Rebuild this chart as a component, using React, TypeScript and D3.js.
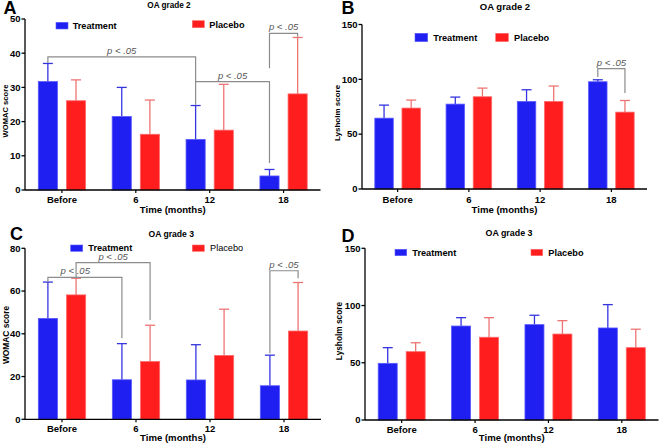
import React from 'react';
import * as d3 from 'd3';

// ---------- DATA ----------
const categories = ['Before', '6', '12', '18'];
const seriesNames = ['Treatment', 'Placebo'];

// Panel A: WOMAC, OA grade 2
const womacG2Treatment = [31.7, 21.5, 14.8, 4.1];
const womacG2TreatmentSD = [5.3, 8.5, 9.9, 1.9];
const womacG2Placebo = [26.1, 16.3, 17.5, 28.1];
const womacG2PlaceboSD = [6.1, 10.0, 13.4, 16.5];

// Panel B: Lysholm, OA grade 2
const lysholmG2Treatment = [64.6, 77.4, 79.8, 97.8];
const lysholmG2TreatmentSD = [11.9, 6.4, 10.7, 1.8];
const lysholmG2Placebo = [73.8, 84.1, 79.8, 70.1];
const lysholmG2PlaceboSD = [7.3, 7.9, 14.1, 10.6];

// Panel C: WOMAC, OA grade 3
const womacG3Treatment = [47.2, 18.5, 18.4, 15.7];
const womacG3TreatmentSD = [17.0, 16.9, 16.5, 14.3];
const womacG3Placebo = [58.2, 27.0, 29.9, 41.3];
const womacG3PlaceboSD = [7.8, 17.0, 21.6, 22.7];

// Panel D: Lysholm, OA grade 3
const lysholmG3Treatment = [49.5, 82.1, 83.3, 80.4];
const lysholmG3TreatmentSD = [13.7, 7.3, 8.2, 20.4];
const lysholmG3Placebo = [59.7, 72.3, 75.1, 63.2];
const lysholmG3PlaceboSD = [7.8, 17.1, 11.7, 16.1];

// Significance brackets: [categoryIndex, seriesIndex] endpoints, bar level y, leg ends
const pLabel = 'p < .05';
const bracketsA = [
  { a: [0, 0], b: [2, 0], y: 38.9, ya: 37.1, yb: 24.9, at: 0.5 },
  { a: [2, 0], b: [3, 0], y: 31.7, ya: 31.7, yb: 7.9, at: 0.5 },
  { a: [3, 0], b: [3, 1], y: 45.8, ya: 35.6, yb: 44.8, at: 0.5 },
];
const bracketsB = [{ a: [3, 0], b: [3, 1], y: 109.7, ya: 102.1, yb: 87.5, at: 0.5 }];
const bracketsC = [
  { a: [0, 0], b: [1, 0], y: 66.4, ya: 64.2, yb: 37.9, at: 0.37 },
  { a: [0, 1], b: [1, 1], y: 73.3, ya: 66.0, yb: 46.5, at: 0.5 },
  { a: [3, 0], b: [3, 1], y: 69.5, ya: 30.9, yb: 66.0, at: 0.5 },
];
const bracketsD: any[] = [];

// ---------- STYLE ----------
const FONT = "'Liberation Sans', Arial, Helvetica, sans-serif";
const FILL = ['#1f1ff2', '#ff1d1d'];
const EDGE = ['#5a5aff', '#ff6a6a'];
const ERR = ['#3535e0', '#ee7474'];
const GREY = '#8c8c8c';

type PanelProps = {
  letter: string; letterPos: [number, number];
  title: string; titlePos: [number, number]; titleSize: number;
  yLabel: string; yLabelX: number; yLabelY: number; yLabelSize: number;
  xr: [number, number]; yr: [number, number];
  domain: [number, number]; tickStep: number;
  values: number[][]; sds: number[][];
  brackets: any[];
  legend: { sx: number; sy: number; sw: number; sh: number; tx: number; ty: number; weight: string }[];
  tickBase: number; xLabelBase: number;
};

function Panel(p: PanelProps) {
  const x0 = d3.scaleBand<string>().domain(categories).range(p.xr).paddingInner(0.36).paddingOuter(0.18);
  const x1 = d3.scaleBand<string>().domain(seriesNames).range([0, x0.bandwidth()]).paddingInner(0.32);
  const y = d3.scaleLinear().domain(p.domain).range(p.yr);
  const ticks = d3.range(p.domain[0], p.domain[1] + 0.001, p.tickStep);
  const cx = (ci: number, si: number) => (x0(categories[ci]) as number) + (x1(seriesNames[si]) as number) + x1.bandwidth() / 2;
  const [left, right] = p.xr;
  const bottom = p.yr[0];
  return (
    <g fontFamily={FONT}>
      <text x={p.letterPos[0]} y={p.letterPos[1]} fontSize={18} fontWeight="bold">{p.letter}</text>
      <text x={p.titlePos[0]} y={p.titlePos[1]} fontSize={p.titleSize} fontWeight="bold" textAnchor="middle">{p.title}</text>
      {/* legend */}
      {p.legend.map((l, i) => (
        <g key={'lg' + i}>
          <rect x={l.sx} y={l.sy} width={l.sw} height={l.sh} fill={FILL[i]} stroke={EDGE[i]} strokeWidth={0.6} />
          <text x={l.tx} y={l.ty} fontSize={9.2} fontWeight={l.weight}>{seriesNames[i]}</text>
        </g>
      ))}
      {/* bars */}
      {p.values.map((vals, si) => vals.map((v, ci) => {
        const bx = (x0(categories[ci]) as number) + (x1(seriesNames[si]) as number);
        const w = x1.bandwidth();
        const top = y(v);
        const errTop = y(v + p.sds[si][ci]);
        const c = bx + w / 2;
        return (
          <g key={`b${si}-${ci}`}>
            <line x1={c} x2={c} y1={top} y2={errTop} stroke={ERR[si]} strokeWidth={1.3} />
            <line x1={c - 5} x2={c + 5} y1={errTop} y2={errTop} stroke={ERR[si]} strokeWidth={1.3} />
            <rect x={bx} y={top} width={w} height={bottom - top} fill={FILL[si]} stroke={EDGE[si]} strokeWidth={0.8} />
          </g>
        );
      }))}
      {/* brackets */}
      {p.brackets.map((b, i) => {
        const xa = cx(b.a[0], b.a[1]);
        const xb = cx(b.b[0], b.b[1]);
        const yy = y(b.y);
        return (
          <g key={'br' + i}>
            <path d={`M${xa},${y(b.ya)}V${yy}H${xb}V${y(b.yb)}`} fill="none" stroke={GREY} strokeWidth={1.2} />
            <text x={xa + (xb - xa) * b.at} y={yy - 3} fontSize={9.5} fontStyle="italic" fill="#555" textAnchor="middle">{pLabel}</text>
          </g>
        );
      })}
      {/* y axis */}
      <line x1={left} x2={left} y1={y(p.domain[1])} y2={bottom} stroke="#000" strokeWidth={1.3} />
      {ticks.map(t => (
        <g key={'yt' + t}>
          <line x1={left - 3.5} x2={left} y1={y(t)} y2={y(t)} stroke="#000" strokeWidth={1.3} />
          <text x={left - 4.5} y={y(t) + 3.3} fontSize={9.5} fontWeight="bold" textAnchor="end">{t}</text>
        </g>
      ))}
      {/* x axis */}
      <line x1={left} x2={right} y1={bottom} y2={bottom} stroke="#000" strokeWidth={1.3} />
      {categories.map(c => {
        const xc = (x0(c) as number) + x0.bandwidth() / 2;
        return (
          <g key={'xt' + c}>
            <line x1={xc} x2={xc} y1={bottom} y2={bottom + 3} stroke="#000" strokeWidth={1.2} />
            <text x={xc} y={p.tickBase} fontSize={9.5} fontWeight="bold" textAnchor="middle">{c}</text>
          </g>
        );
      })}
      <text x={(left + right) / 2} y={p.xLabelBase} fontSize={9.6} fontWeight="bold" textAnchor="middle">Time (months)</text>
      <text transform={`translate(${p.yLabelX},${p.yLabelY}) rotate(-90)`} fontSize={p.yLabelSize} fontWeight="bold" textAnchor="middle">{p.yLabel}</text>
    </g>
  );
}

export default function App() {
  return (
    <svg width={661} height={443} style={{ position: 'absolute', left: 0, top: 0, background: '#fff' }}>
      <rect width={661} height={443} fill="#fff" />
      <Panel
        letter="A" letterPos={[3.5, 14]}
        title="OA grade 2" titlePos={[169, 8]} titleSize={8.2}
        yLabel="WOMAC score" yLabelX={8.4} yLabelY={111} yLabelSize={7.6}
        xr={[25, 320.5]} yr={[190, 19]} domain={[0, 50]} tickStep={10}
        values={[womacG2Treatment, womacG2Placebo]} sds={[womacG2TreatmentSD, womacG2PlaceboSD]}
        brackets={bracketsA}
        legend={[
          { sx: 56, sy: 22.3, sw: 12, sh: 6.7, tx: 72.7, ty: 29, weight: 'bold' },
          { sx: 192.3, sy: 20.7, sw: 12, sh: 7, tx: 209.3, ty: 27.7, weight: 'bold' },
        ]}
        tickBase={203} xLabelBase={213}
      />
      <Panel
        letter="B" letterPos={[341.5, 14]}
        title="OA grade 2" titlePos={[505, 10]} titleSize={9.5}
        yLabel="Lysholm score" yLabelX={340} yLabelY={113} yLabelSize={8}
        xr={[362, 647]} yr={[189, 24.5]} domain={[0, 150]} tickStep={50}
        values={[lysholmG2Treatment, lysholmG2Placebo]} sds={[lysholmG2TreatmentSD, lysholmG2PlaceboSD]}
        brackets={bracketsB}
        legend={[
          { sx: 415, sy: 33.3, sw: 12.7, sh: 8.3, tx: 433.3, ty: 40.8, weight: 'bold' },
          { sx: 495.7, sy: 33.3, sw: 12.7, sh: 8.3, tx: 514, ty: 40.8, weight: 'bold' },
        ]}
        tickBase={202.5} xLabelBase={213}
      />
      <Panel
        letter="C" letterPos={[10, 240]}
        title="OA grade 3" titlePos={[171.3, 236.5]} titleSize={8.6}
        yLabel="WOMAC  score" yLabelX={8.8} yLabelY={335} yLabelSize={8.4}
        xr={[25, 321]} yr={[419.3, 248.3]} domain={[0, 80]} tickStep={20}
        values={[womacG3Treatment, womacG3Placebo]} sds={[womacG3TreatmentSD, womacG3PlaceboSD]}
        brackets={bracketsC}
        legend={[
          { sx: 70.7, sy: 245, sw: 12, sh: 6.3, tx: 88.3, ty: 251.3, weight: 'bold' },
          { sx: 192.3, sy: 245, sw: 12, sh: 6.3, tx: 210, ty: 251.3, weight: 'normal' },
        ]}
        tickBase={431.5} xLabelBase={440.5}
      />
      <Panel
        letter="D" letterPos={[341.5, 241.5]}
        title="OA grade 3" titlePos={[509, 235.5]} titleSize={8.9}
        yLabel="Lysholm score" yLabelX={341.5} yLabelY={331} yLabelSize={8.3}
        xr={[365, 658.5]} yr={[420, 248.3]} domain={[0, 150]} tickStep={50}
        values={[lysholmG3Treatment, lysholmG3Placebo]} sds={[lysholmG3TreatmentSD, lysholmG3PlaceboSD]}
        brackets={bracketsD}
        legend={[
          { sx: 395, sy: 249.3, sw: 11.7, sh: 6.4, tx: 412.3, ty: 255.7, weight: 'bold' },
          { sx: 531, sy: 249.3, sw: 11.7, sh: 6.4, tx: 548.3, ty: 255.7, weight: 'bold' },
        ]}
        tickBase={432.5} xLabelBase={440.5}
      />
    </svg>
  );
}
